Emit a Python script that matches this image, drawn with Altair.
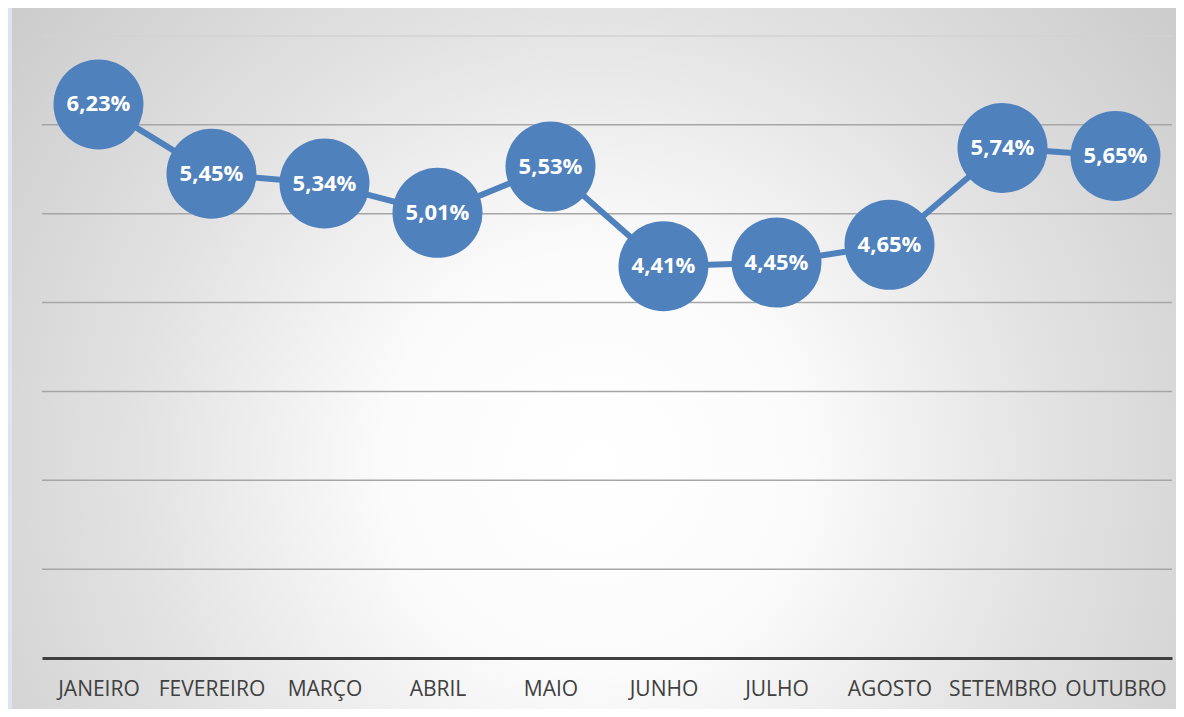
import altair as alt
import pandas as pd

months = ["JANEIRO", "FEVEREIRO", "MARÇO", "ABRIL", "MAIO", "JUNHO", "JULHO", "AGOSTO", "SETEMBRO", "OUTUBRO"]
values = [6.23, 5.45, 5.34, 5.01, 5.53, 4.41, 4.45, 4.65, 5.74, 5.65]
labels = ["6,23%", "5,45%", "5,34%", "5,01%", "5,53%", "4,41%", "4,45%", "4,65%", "5,74%", "5,65%"]
grid_values = [1, 2, 3, 4, 5, 6, 7]

df = pd.DataFrame({"mes": months, "valor": values, "rotulo": labels})
grid_df = pd.DataFrame({"g": grid_values})
one = pd.DataFrame({"k": [0]})

BLUE = "#4f81bd"

x_enc = alt.X("mes:N", sort=months,
              scale=alt.Scale(paddingInner=0, paddingOuter=0),
              axis=alt.Axis(title=None, labelAngle=0, ticks=False, grid=False,
                            domainColor="#3f3f3f", domainWidth=3, zindex=1,
                            labelFont="Open Sans", labelFontSize=21,
                            labelColor="#404040", labelPadding=20))
y_scale = alt.Scale(domain=[0, 7], nice=False)
y_enc = alt.Y("valor:Q", scale=y_scale, axis=None)

bg = alt.Chart(one).mark_rect(
    color=alt.Gradient(
        gradient="radial",
        x1=0.5, y1=0.58, r1=0.0,
        x2=0.5, y2=0.58, r2=0.72,
        stops=[alt.GradientStop(color="#ffffff", offset=0),
               alt.GradientStop(color="#fbfbfb", offset=0.25),
               alt.GradientStop(color="#e2e2e2", offset=0.55),
               alt.GradientStop(color="#c4c4c4", offset=1)])
).encode(x=alt.value(-30), x2=alt.value(1134), y=alt.value(-30), y2=alt.value(700))

strip = alt.Chart(one).mark_rect(color="#d9e5ef").encode(
    x=alt.value(-34), x2=alt.value(-30), y=alt.value(-30), y2=alt.value(700))

grid = alt.Chart(grid_df).mark_rule(strokeWidth=1.5).encode(
    y=alt.Y("g:Q", scale=y_scale, axis=None),
    color=alt.condition(alt.datum.g == 7, alt.value("#d2d2d2"), alt.value("#a6a6a6")))

base = alt.Chart(df).encode(x=x_enc, y=y_enc)

line = base.mark_line(color=BLUE, strokeWidth=6)
dots = base.mark_circle(color=BLUE, opacity=1, size=8100)
text = base.mark_text(color="white", font="Open Sans", fontWeight="bold",
                      fontSize=22, baseline="middle", align="center").encode(text="rotulo:N")

chart = alt.layer(bg, strip, grid, line, dots, text).properties(
    width=1130, height=622,
    autosize=alt.AutoSizeParams(type="none"),
    padding={"left": 34, "top": 28, "right": 4, "bottom": 51},
    background="white"
).configure_view(stroke=None)

chart.save("out.html", embed_options={"renderer": "svg", "actions": False})
